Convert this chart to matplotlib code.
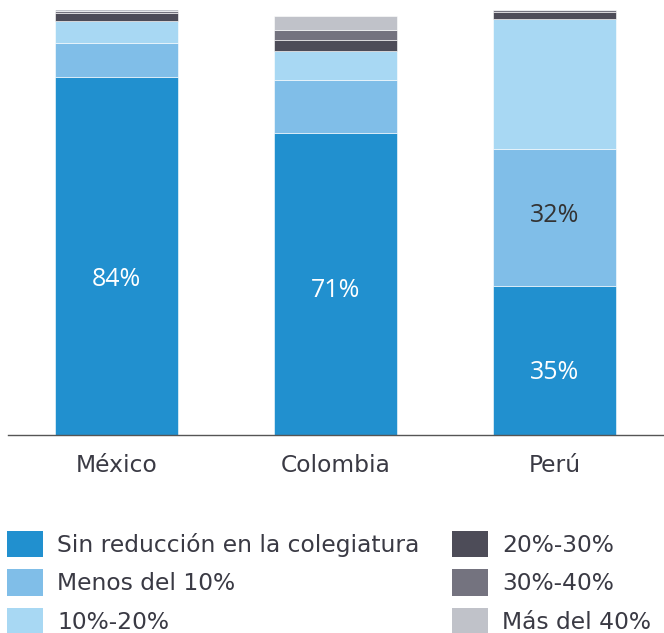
import numpy as np
import matplotlib.pyplot as plt

plt.rcParams['font.family'] = ['DejaVu Sans']

countries = ['México', 'Colombia', 'Perú']
series = ['Sin reducción en la colegiatura', 'Menos del 10%', '10%-20%',
          '20%-30%', '30%-40%', 'Más del 40%']
sin_reduccion = [84.2, 71.0, 35.0]
menos_10 = [8.0, 12.5, 32.2]
de_10_20 = [5.2, 6.9, 30.6]
de_20_30 = [1.8, 2.6, 1.8]
de_30_40 = [0.5, 2.2, 0.3]
mas_40 = [0.5, 3.4, 0.3]
colors = ['#2190cf', '#80bee8', '#a8d8f3', '#4d4c58', '#74737f', '#c0c2c9']

# value labels: (bar, series index, text, colour)
labels = [(0, 0, '84%', 'white'), (1, 0, '71%', 'white'),
          (2, 0, '35%', 'white'), (2, 1, '32%', '#333333')]
label_shift = [-5.5, -1.5, -2.8, 0.5]

text_color = '#3a3a44'
fs = 16.8

fig = plt.figure(figsize=(6.64, 6.33), dpi=100)
ax = fig.add_axes([8 / 664, 198 / 633, 1 - 8 / 664, 425 / 633])

data = np.array([sin_reduccion, menos_10, de_10_20, de_20_30, de_30_40, mas_40])
x = np.arange(len(countries))
bottom = np.zeros(len(countries))
for i, name in enumerate(series):
    ax.bar(x, data[i], 0.56, bottom=bottom, color=colors[i], label=name,
           edgecolor='white', linewidth=0.4)
    bottom += data[i]

starts = np.vstack([np.zeros(len(countries)), np.cumsum(data, axis=0)[:-1]])
for (b, s, txt, c), dy in zip(labels, label_shift):
    yc = starts[s, b] + data[s, b] / 2 + dy
    ax.text(x[b], yc, txt, ha='center', va='center', color=c, fontsize=18,
            family='Open Sans')

ax.set_xlim(-0.495, 2.5)
ax.set_ylim(0, 100)
ax.set_xticks(x)
ax.set_xticklabels(countries, fontsize=fs, color=text_color)
ax.tick_params(axis='x', length=0, pad=14)
ax.set_yticks([])
for side in ['top', 'right', 'left']:
    ax.spines[side].set_visible(False)
ax.spines['bottom'].set_color('#555555')
ax.spines['bottom'].set_linewidth(1)

handles, names = ax.get_legend_handles_labels()
leg = fig.legend(handles, names, ncol=2, loc='upper left',
                 bbox_to_anchor=(7 / 664, 102.5 / 633), frameon=False,
                 fontsize=fs, handlelength=1.55, handleheight=1.4,
                 handletextpad=0.6, labelspacing=0.5, columnspacing=1.4,
                 borderaxespad=0, borderpad=0)
for t in leg.get_texts():
    t.set_color(text_color)
for h in leg.legend_handles:
    h.set_linewidth(0)

fig.savefig('out.png', dpi=100)
